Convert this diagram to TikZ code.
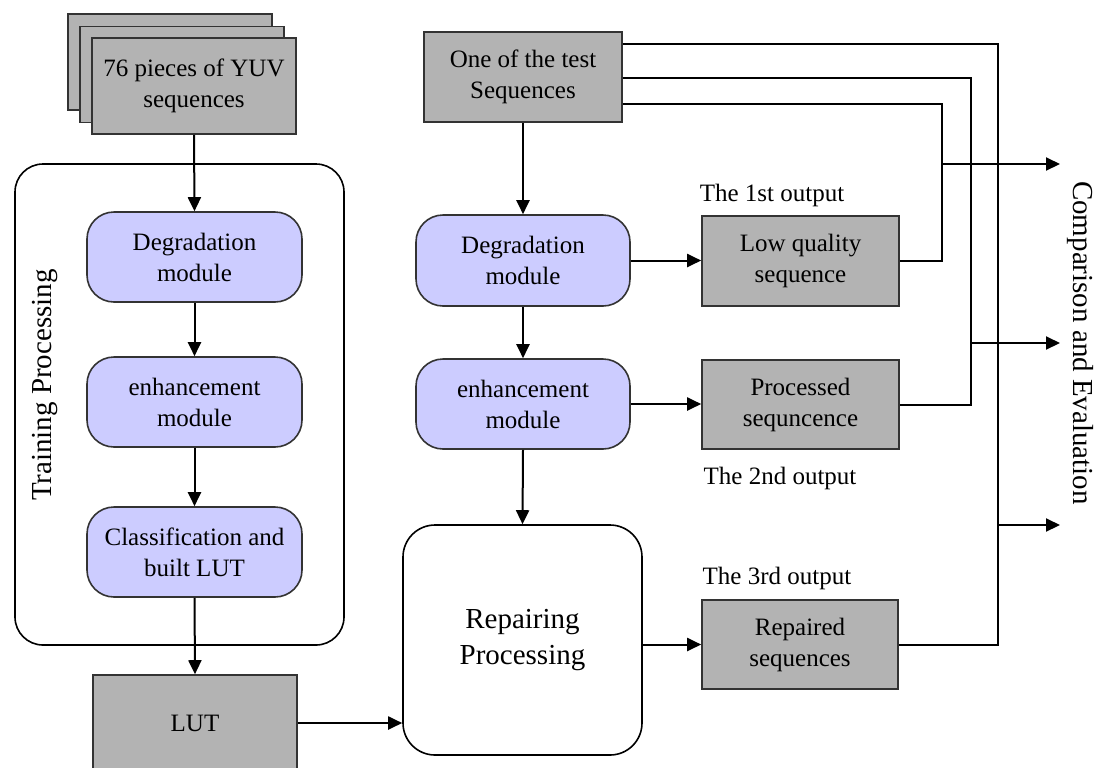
\documentclass[tikz,border=0pt]{standalone}
\usepackage{fontspec}
\setmainfont{Liberation Serif}
\usetikzlibrary{arrows.meta}
\definecolor{boxgray}{HTML}{B3B3B3}
\definecolor{lav}{HTML}{CCCCFF}
\definecolor{edge}{HTML}{333333}
\tikzset{
  txt/.style={font=\fontsize{12.5}{15.5}\selectfont, align=center, inner sep=0pt},
  bigtxt/.style={font=\fontsize{14.5}{18}\selectfont, align=center, inner sep=0pt},
  graybox/.style={txt, draw=edge, line width=0.8pt, fill=boxgray, rectangle},
  modbox/.style={txt, draw=edge, line width=0.8pt, fill=lav, rounded corners=13.5pt,
                 minimum width=107.5pt, minimum height=45pt},
  conn/.style={line width=1pt, draw=black},
  arr/.style={conn, -{Triangle[length=7pt,width=6.5pt]}},
}
\begin{document}
\begin{tikzpicture}[x=0.5pt,y=-0.5pt]
\useasboundingbox (0,0) rectangle (1098,767);

% stacked input
\node[graybox, minimum width=102pt, minimum height=48pt] (stackA) at (170,62) {};
\node[graybox, minimum width=102pt, minimum height=48pt] (stackB) at (182,74.5) {};
\node[graybox, minimum width=102pt, minimum height=48pt] (stack) at (194,86) {76 pieces of YUV\\sequences};

% training container
\node[draw=black, line width=0.8pt, rounded corners=14pt, minimum width=164.5pt, minimum height=240.5pt, inner sep=0pt] (train) at (179.5,404.5) {};
\node[bigtxt, rotate=90] (trainlbl) at (45,385) {Training Processing};

\node[modbox] (ldeg) at (194.5,257) {Degradation\\module};
\node[modbox] (lenh) at (194.5,402) {enhancement\\module};
\node[modbox] (lcls) at (194.5,552) {Classification and\\built LUT};

\node[graybox, minimum width=102pt, minimum height=48pt] (lut) at (195,723) {LUT};

% right column
\node[graybox, minimum width=99pt, minimum height=45pt] (test) at (523,77) {One of the test\\Sequences};
\node[modbox, minimum width=107pt, minimum height=45.5pt] (rdeg) at (523,260.5) {Degradation\\module};
\node[modbox, minimum width=107pt, minimum height=45pt] (renh) at (523,404) {enhancement\\module};
\node[bigtxt, draw=black, line width=0.8pt, rounded corners=16pt, minimum width=119.5pt, minimum height=115pt] (rep) at (522.5,640) {Repairing\\Processing};

\node[graybox, minimum width=98.5pt, minimum height=45pt] (lowq) at (800.5,261) {Low quality\\sequence};
\node[graybox, minimum width=98.5pt, minimum height=44.5pt] (proc) at (800.5,404.5) {Processed\\sequncence};
\node[graybox, minimum width=98pt, minimum height=44.5pt] (repd) at (800,644.5) {Repaired\\sequences};

\node[txt] (o1) at (772,195) {The 1st output};
\node[txt] (o2) at (780,478) {The 2nd output};
\node[txt] (o3) at (777,578) {The 3rd output};

\node[bigtxt, rotate=-90] (cmp) at (1080,343) {Comparison and Evaluation};

% left flow
\draw[arr] (stack.south) -- (ldeg.north);
\draw[arr] (ldeg.south) -- (lenh.north);
\draw[arr] (lenh.south) -- (lcls.north);
\draw[arr] (lcls.south) -- (lut.north);
\draw[arr] (lut.east) -- (lut.east -| rep.west);

% right flow
\draw[arr] (test.south) -- (rdeg.north);
\draw[arr] (rdeg.south) -- (renh.north);
\draw[arr] (renh.south) -- (rep.north);
\draw[arr] (rdeg.east) -- (rdeg.east -| lowq.west);
\draw[arr] (renh.east) -- (renh.east -| proc.west);
\draw[arr] (rep.east |- repd.west) -- (repd.west);

% bus lines
\coordinate (b1) at (998,44);
\coordinate (b2) at (971,78);
\coordinate (b3) at (942,104);
\draw[conn] (test.east |- b1) -- (b1) -- (b1 |- repd.east) -- (repd.east);
\draw[conn] (test.east |- b2) -- (b2) -- (b2 |- proc.east) -- (proc.east);
\draw[conn] (test.east |- b3) -- (b3) -- (b3 |- lowq.east) -- (lowq.east);

\coordinate (s1) at (942,164);
\coordinate (e1) at (1060,164);
\coordinate (s2) at (971,343);
\coordinate (e2) at (1060,343);
\coordinate (s3) at (998,525);
\coordinate (e3) at (1060,525);
\draw[arr] (s1) -- (e1);
\draw[arr] (s2) -- (e2);
\draw[arr] (s3) -- (e3);
\end{tikzpicture}
\end{document}
